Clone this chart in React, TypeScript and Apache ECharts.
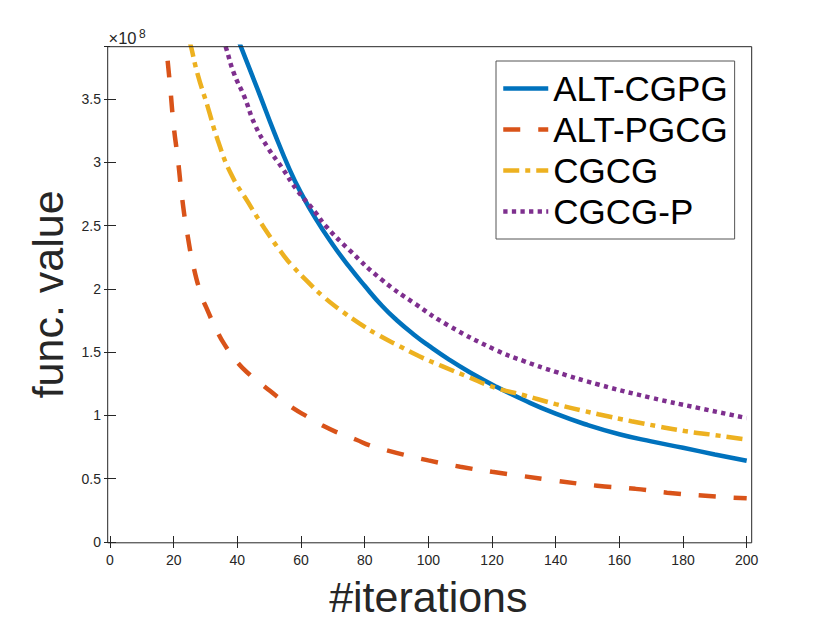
import React, { useEffect, useRef } from "react";
import * as echarts from "echarts";

// ---- data (values in units of 1e8) ----
const seriesNames = ["ALT-CGPG", "ALT-PGCG", "CGCG", "CGCG-P"];
const seriesColors = ["#0072BD", "#D95319", "#EDB120", "#7E2F8E"];

const altCgpg: [number, number][] = [
  [40, 3.99], [41.2, 3.91], [46.5, 3.57], [51.7, 3.23], [56.5, 2.94], [60, 2.76],
  [64.5, 2.56], [70, 2.35], [75, 2.18], [80, 2.025], [85.5, 1.865], [90, 1.755],
  [96, 1.629], [100, 1.554], [106.4, 1.444], [113, 1.342], [121, 1.232], [130, 1.122],
  [140, 1.014], [150, 0.925], [160, 0.852], [170, 0.795], [180, 0.745], [190, 0.692],
  [200, 0.642],
];

const altPgcg: [number, number][] = [
  [17, 4.08], [18, 3.83], [19, 3.57], [20, 3.29], [21.4, 3.01], [22.6, 2.73],
  [24.2, 2.45], [26.3, 2.17], [28.7, 1.95], [30.3, 1.85], [33.4, 1.68], [36, 1.56],
  [40, 1.42], [44, 1.32], [48.5, 1.23], [53, 1.14], [57.4, 1.06], [62, 0.99],
  [66.8, 0.92], [72, 0.86], [77.2, 0.81], [82, 0.76], [87.6, 0.72], [94, 0.68],
  [100, 0.645], [110, 0.595], [120, 0.555], [130, 0.52], [140, 0.485], [153, 0.445],
  [165, 0.42], [175, 0.39], [187, 0.365], [200, 0.345],
];

const cgcg: [number, number][] = [
  [25, 3.96], [25.5, 3.91], [27.5, 3.70], [30.7, 3.44], [33.8, 3.18], [38, 2.91],
  [43.5, 2.68], [48.5, 2.48], [54.7, 2.26], [57.4, 2.18], [62, 2.06], [67, 1.94],
  [72, 1.84], [78.2, 1.73], [84, 1.64], [90.8, 1.55], [97, 1.47], [104.3, 1.39],
  [112, 1.31], [121, 1.22], [130, 1.16], [140, 1.09], [153.4, 1.01], [163.8, 0.955],
  [172, 0.915], [180.5, 0.877], [190, 0.845], [200, 0.81],
];

const cgcgP: [number, number][] = [
  [35.5, 3.98], [36.4, 3.91], [39, 3.70], [42.2, 3.52], [45.5, 3.30], [49.5, 3.12],
  [54, 2.96], [58.8, 2.78], [64.4, 2.61], [67.7, 2.50], [75.1, 2.31], [85.5, 2.07],
  [96, 1.88], [106.4, 1.71], [121, 1.52], [130, 1.43], [140, 1.345], [153.4, 1.245],
  [170, 1.14], [184.7, 1.06], [200, 0.98],
];

const seriesData = [altCgpg, altPgcg, cgcg, cgcgP];
const dashTypes: any[] = ["solid", [17, 18], [16, 6, 5, 6], [4.3, 4.3]];

const xMin = 0;
const xMax = 200;
const xInterval = 20;
const yMin = 0;
const yMax = 3.915;
const yInterval = 0.5;

const FONT = "'Liberation Sans', Arial, Helvetica, sans-serif";
const AX = "#262626";
const LINE_W = 4.5;

export default function App() {
  const ref = useRef<HTMLDivElement>(null);

  useEffect(() => {
    if (!ref.current) return;
    const chart = echarts.init(ref.current, undefined, { renderer: "svg" });

    const tick = { show: true, inside: true, length: 6, lineStyle: { color: AX, width: 1 } };

    const option: any = {
      animation: false,
      backgroundColor: "#ffffff",
      textStyle: { fontFamily: FONT },
      grid: { left: 110, right: 83.3, top: 46.7, bottom: 80.2, containLabel: false },
      legend: {
        orient: "vertical",
        left: 496,
        top: 61,
        itemWidth: 45,
        itemHeight: 14,
        itemGap: 0,
        padding: [7, 7, 7, 5],
        borderColor: "#555555",
        borderWidth: 1,
        borderRadius: 0,
        backgroundColor: "#ffffff",
        itemStyle: { color: "rgba(0,0,0,0)", borderWidth: 0, opacity: 0 },
        lineStyle: { width: LINE_W },
        textStyle: { fontSize: 35, lineHeight: 41, color: "#000000", fontFamily: FONT },
        data: seriesNames,
      },
      xAxis: [
        {
          type: "value",
          min: xMin,
          max: xMax,
          interval: xInterval,
          position: "bottom",
          name: "#iterations",
          nameLocation: "middle",
          nameGap: 33,
          nameTextStyle: { fontSize: 43, color: AX, fontFamily: FONT },
          axisLine: { show: false },
          axisTick: tick,
          axisLabel: { fontSize: 14, color: AX, margin: 11, fontFamily: FONT },
          splitLine: { show: false },
        },
        {
          type: "value",
          min: xMin,
          max: xMax,
          interval: xInterval,
          position: "top",
          axisLine: { show: false },
          axisTick: tick,
          axisLabel: { show: false },
          splitLine: { show: false },
        },
      ],
      yAxis: [
        {
          type: "value",
          min: yMin,
          max: yMax,
          interval: yInterval,
          position: "left",
          offset: 2.3,
          name: "func. value",
          nameLocation: "middle",
          nameGap: 38,
          nameRotate: 90,
          nameTextStyle: { fontSize: 43, color: AX, fontFamily: FONT },
          axisLine: { show: false },
          axisTick: tick,
          axisLabel: { fontSize: 14, color: AX, margin: 6.7, fontFamily: FONT, showMaxLabel: false },
          splitLine: { show: false },
        },
        {
          type: "value",
          min: yMin,
          max: yMax,
          interval: yInterval,
          position: "right",
          offset: 5,
          axisLine: { show: false },
          axisTick: tick,
          axisLabel: { show: false },
          splitLine: { show: false },
        },
      ],
      graphic: [
        {
          type: "rect",
          z: 5,
          silent: true,
          shape: { x: 107.7, y: 46.7, width: 644, height: 496.1 },
          style: { fill: "none", stroke: AX, lineWidth: 1 },
        },
        {
          type: "text",
          z: 5,
          silent: true,
          style: {
            text: "×10",
            x: 108.5,
            y: 37.5,
            fontSize: 16.5,
            fontFamily: FONT,
            fill: AX,
            align: "left",
            verticalAlign: "middle",
          },
        },
        {
          type: "text",
          z: 5,
          silent: true,
          style: {
            text: "8",
            x: 139,
            y: 33.5,
            fontSize: 12,
            fontFamily: FONT,
            fill: AX,
            align: "left",
            verticalAlign: "middle",
          },
        },
      ],
      series: seriesNames.map((name, i) => ({
        type: "line",
        name,
        data: seriesData[i],
        xAxisIndex: 0,
        yAxisIndex: 0,
        symbol: "none",
        showSymbol: false,
        smooth: 0.5,
        clip: true,
        z: 2,
        itemStyle: { color: seriesColors[i] },
        lineStyle: { color: seriesColors[i], width: LINE_W, type: dashTypes[i], cap: "butt" },
      })),
    };

    chart.setOption(option);
    return () => chart.dispose();
  }, []);

  return (
    <div
      ref={ref}
      style={{ position: "fixed", left: 0, top: 0, width: 830, height: 623, background: "#fff" }}
    />
  );
}
